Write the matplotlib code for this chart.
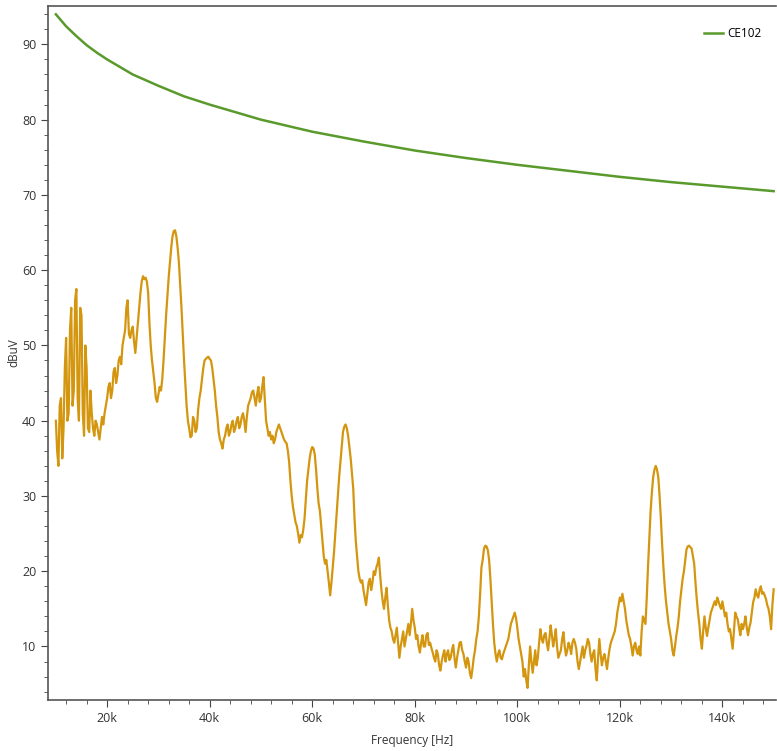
import numpy as np
import matplotlib
matplotlib.use('Agg')
import matplotlib.pyplot as plt
from matplotlib.ticker import MultipleLocator, FuncFormatter

##### data (frequency in kHz, level in dBuV)
# CE102 limit
limit_freq = [10, 12, 14, 16, 18, 20, 25, 30, 35, 40, 45, 50, 60, 70, 80,
              90, 100, 110, 120, 130, 140, 150]
limit_level = [94.0, 92.4, 91.1, 89.9, 88.9, 88.0, 86.0, 84.5, 83.1, 82.0, 81.0,
               80.0, 78.4, 77.1, 75.9, 74.9, 74.0, 73.2, 72.4, 71.7, 71.1, 70.5]

# measured spectrum, one value every 0.25 kHz from 10k to 150k (one row = 10 kHz)
meas_freq = np.linspace(10, 150, 561)
meas_level = [
    40, 36, 34, 42, 43, 35, 39, 47, 51, 40, 41, 52, 55, 42, 44, 56, 57.5, 43, 40, 55,
    54, 41, 38, 50, 47, 39, 38.5, 44, 41, 39, 38, 40, 39.5, 38.5, 37.5, 39, 40.5, 39.5, 41, 42,
    43, 44.5, 45, 43, 44, 46.5, 47, 45, 46, 48, 48.5, 47.5, 50, 51, 52, 55, 56, 51.5, 51, 52,
    52.5, 50.5, 49, 51, 53, 55, 57, 58.5, 59.2, 58.8, 59, 58.5, 57, 53, 50, 48, 46.5, 45, 43, 42.5,
    43.5, 44.5, 44, 45.5, 48, 51, 54, 56.5, 59, 61, 63, 64.5, 65.2, 65.3, 64.5, 63, 61, 58, 55, 51.5,
    48, 45, 42, 40, 39, 37.8, 38, 40.5, 40, 38.5, 39, 41.5, 43, 44, 45.5, 47, 48, 48.2, 48.4, 48.5,
    48.2, 48, 47, 45.5, 44, 42, 40.5, 38.5, 37.5, 37, 36.3, 37.5, 38, 39, 39.5, 38, 38.5, 39.5, 40, 38.5,
    39, 40, 40.5, 39, 39.5, 40.5, 41, 40, 38.5, 40.5, 42, 42.5, 43, 43.8, 44, 43, 42, 43.5, 44.5, 42.5,
    43, 44.5, 45.8, 43, 40, 39, 38, 38.5, 37.5, 38, 37, 37.5, 38.5, 39, 39.5, 39, 38.5, 38, 37.5, 37.2,
    37, 36, 34.5, 32, 30, 28.5, 27.5, 26.5, 26, 25, 23.8, 24.8, 24.5, 25.5, 27, 29.5, 32, 33.5, 35, 36,
    36.5, 36.3, 35.5, 33.5, 31, 29, 28, 26, 24, 22, 21, 21.5, 20, 18.5, 16.8, 18.5, 20.5, 22.5, 25, 27.5,
    30, 32.5, 34.5, 36.5, 38.5, 39.2, 39.5, 39, 38, 36.5, 35, 33, 31, 27, 24, 22, 20, 19, 18.5, 18.8,
    17.5, 16.5, 15.5, 17, 18.5, 19, 17.5, 18.5, 20, 19.5, 20.5, 21, 21.8, 19.5, 17.5, 16, 15, 16.5, 17.8, 15.5,
    13.5, 12.5, 12, 11, 10.5, 11.5, 12.5, 10.5, 8.5, 10, 11, 12, 10, 11, 12, 13, 11.5, 13, 15, 13.5,
    12.5, 11, 11.5, 10, 9.2, 10.5, 11.5, 10, 10, 11.5, 11.8, 10.2, 10.5, 9.8, 9.2, 8.5, 8, 9.5, 9, 7.5,
    6.8, 8, 8.8, 9.5, 8, 9, 9.5, 8.2, 8.5, 9.5, 10.2, 8.5, 7.2, 8.5, 9.5, 10.5, 10.6, 9.5, 9, 8,
    7.2, 8.5, 8, 6.5, 5.8, 7, 8.5, 9.5, 11, 12, 14, 17, 20.5, 21.5, 23, 23.4, 23.3, 22.8, 21.5, 19,
    16, 13, 10.5, 9, 8, 9, 9.5, 8.5, 8.3, 9, 9.5, 10, 10.5, 11, 12, 13, 13.5, 14, 14.5, 13.8,
    12.5, 11, 10, 9, 8, 6, 7, 5.5, 4.5, 7.5, 10, 8, 6.5, 8, 9.5, 7.5, 8.5, 10.5, 12.3, 11,
    10.5, 11.5, 11.8, 10.5, 9.5, 11, 12.8, 11.5, 10, 11, 12.3, 10, 8.5, 9, 9.5, 11, 11.9, 10, 8.8, 9.5,
    10.5, 10, 9, 10.5, 11, 10.5, 9.7, 8, 7, 8, 9, 10, 8.5, 9.5, 10.1, 11, 10.5, 9, 8, 9,
    9.5, 7, 5.5, 8.5, 11, 9, 7.5, 8.5, 9, 8, 7, 8.5, 9.7, 10.5, 11, 11.5, 12, 13, 14.5, 15.5,
    16.5, 16, 17, 16, 15, 13.5, 12.5, 11.5, 11, 10, 8.8, 10, 10.5, 9.5, 9, 10, 8.8, 12, 14, 13.5,
    13, 16.5, 20.7, 24.5, 28, 30.5, 32.5, 33.5, 34, 33.5, 32.5, 30, 27, 23.5, 20.5, 18, 16, 14.5, 13, 12,
    11, 9.5, 8.8, 10, 11.4, 12.5, 14, 16, 17.5, 19, 20, 21.5, 22.9, 23.3, 23.4, 23.2, 23, 22, 21, 18.5,
    16.3, 14.5, 13, 11, 9.7, 12, 14, 12.5, 11.4, 12.5, 13.5, 14.5, 15, 15.5, 16, 15.5, 16.5, 16, 15.4, 15,
    16, 15, 14, 14.5, 13, 12, 12.3, 11, 9.7, 12, 14.5, 14, 13.6, 12.5, 11.5, 13, 12.3, 13, 14, 12.5,
    11.5, 12.5, 13.2, 14.5, 15.9, 16.5, 17.6, 16.8, 16.5, 17.5, 18, 17, 17.2, 16.8, 16.3, 15.5, 15, 14, 12.3, 15.5,
    17.6,
]

xticks = [20, 40, 60, 80, 100, 120, 140]

##### plotting
plt.rcParams['font.family'] = ['Open Sans', 'DejaVu Sans']
fig = plt.figure(figsize=(7.77, 7.51), dpi=100)
ax = fig.add_axes([0.062, 0.068, 0.937, 0.924])

ax.plot(meas_freq, meas_level, color='#d4960f', lw=1.6)
ax.plot(limit_freq, limit_level, color='#5a9a2c', lw=1.8, label='CE102')

ax.set_xlim(8.5, 150.5)
ax.set_ylim(2.9, 95.1)

ax.set_xticks(xticks)
ax.xaxis.set_major_formatter(FuncFormatter(lambda v, p: '%dk' % v))
ax.xaxis.set_minor_locator(MultipleLocator(4))
ax.yaxis.set_major_locator(MultipleLocator(10))
ax.yaxis.set_minor_locator(MultipleLocator(2))
ax.tick_params(which='major', length=5, color='#444444', labelsize=9, labelcolor='#333333')
ax.tick_params(which='minor', length=3, color='#444444')

for s in ['top', 'left', 'bottom']:
    ax.spines[s].set_color('#555555')
    ax.spines[s].set_linewidth(1.2)
ax.spines['right'].set_visible(False)

ax.set_xlabel('Frequency [Hz]', fontsize=8.5, color='#333333', labelpad=7)
ax.set_ylabel('dBuV', fontsize=8.5, color='#333333', labelpad=1)

leg = ax.legend(loc='upper right', frameon=False, fontsize=8.5, handlelength=1.6,
                handletextpad=0.4, bbox_to_anchor=(0.995, 0.985))

fig.savefig('out.png', dpi=100)
